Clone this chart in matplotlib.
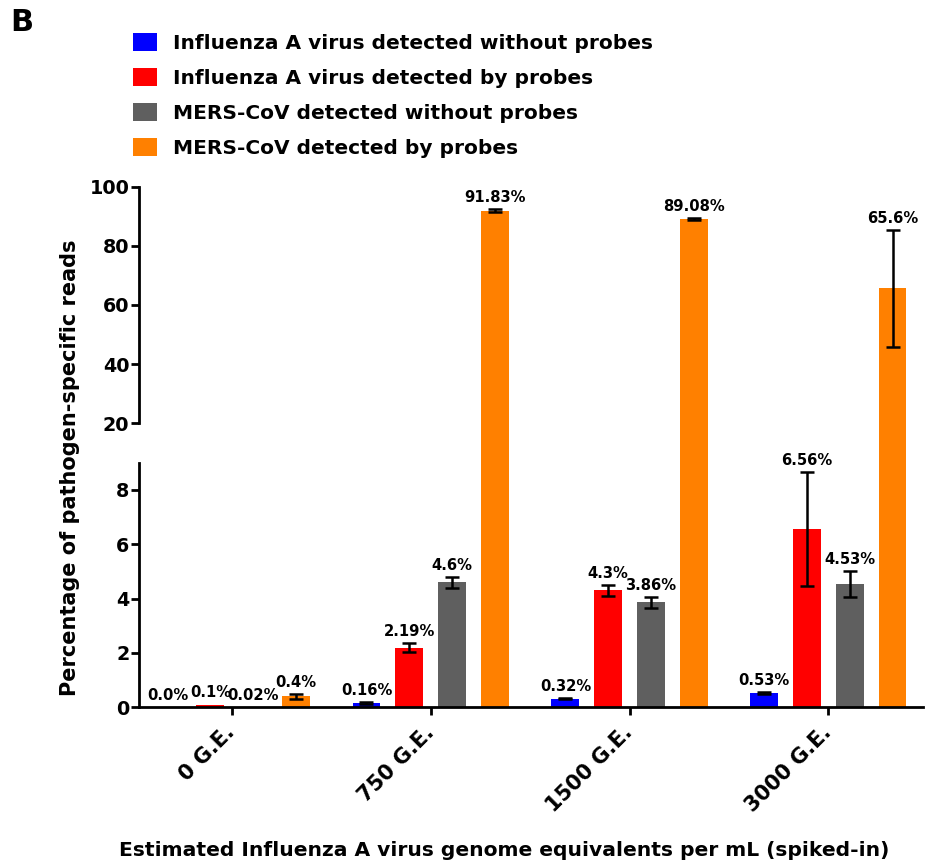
import numpy as np
import matplotlib
matplotlib.use('Agg')
from matplotlib import pyplot as plt

# spiked-in levels and the four read categories
groups = ['0 G.E.', '750 G.E.', '1500 G.E.', '3000 G.E.']
series = ['Influenza A virus detected without probes',
          'Influenza A virus detected by probes',
          'MERS-CoV detected without probes',
          'MERS-CoV detected by probes']
colors = ['#0000FF', '#FF0000', '#5F5F5F', '#FF8000']

flu_no_probe = [0.0, 0.16, 0.32, 0.53]
flu_probe = [0.1, 2.19, 4.3, 6.56]
mers_no_probe = [0.02, 4.6, 3.86, 4.53]
mers_probe = [0.4, 91.83, 89.08, 65.6]

flu_no_probe_err = [0, 0.02, 0.03, 0.04]
flu_probe_err = [0, 0.17, 0.2, 2.1]
mers_no_probe_err = [0, 0.2, 0.2, 0.47]
mers_probe_err = [0.1, 0.5, 0.2, 19.7]

values = [flu_no_probe, flu_probe, mers_no_probe, mers_probe]
errors = [flu_no_probe_err, flu_probe_err, mers_no_probe_err, mers_probe_err]
pct_labels = [['0.0%', '0.16%', '0.32%', '0.53%'],
              ['0.1%', '2.19%', '4.3%', '6.56%'],
              ['0.02%', '4.6%', '3.86%', '4.53%'],
              ['0.4%', '91.83%', '89.08%', '65.6%']]

LOW_MAX = 9
HIGH_MIN, HIGH_MAX = 20, 100
step = 0.215
width = 0.14
x = np.arange(len(groups))

plt.rcParams['font.family'] = 'DejaVu Sans'
plt.rcParams['font.weight'] = 'bold'

fig = plt.figure(figsize=(9.27, 8.63), dpi=100)
ax_low = fig.add_axes([0.150, 0.1804, 0.846, 0.2834])
ax_high = fig.add_axes([0.150, 0.5095, 0.846, 0.2742])

handles = []
for i, (vals, errs, labs) in enumerate(zip(values, errors, pct_labels)):
    xs = x + (i - 1.5) * step
    h = ax_low.bar(xs, vals, width, color=colors[i], label=series[i], zorder=2)
    handles.append(h)
    # only the tall bars go into the top panel; they run unclipped through the gap
    tall = [v if v > HIGH_MIN else 0 for v in vals]
    hb = ax_high.bar(xs, tall, width, color=colors[i], zorder=2)
    for patch, v in zip(hb.patches, vals):
        patch.set_clip_on(False)
        patch.set_visible(v > HIGH_MIN)
    for xi, v, e, lab in zip(xs, vals, errs, labs):
        ax = ax_high if v > LOW_MAX else ax_low
        if e > 0:
            ax.errorbar(xi, v, yerr=e, fmt='none', ecolor='black', elinewidth=1.8,
                        capsize=5, capthick=1.8, zorder=3)
        ax.annotate(lab, (xi, v + e), xytext=(0, 3), textcoords='offset points',
                    ha='center', va='bottom', fontsize=10.6, fontweight='bold',
                    annotation_clip=False)

for ax in (ax_low, ax_high):
    ax.set_xlim(-0.466, 3.477)
    for s in ('top', 'right'):
        ax.spines[s].set_visible(False)
    ax.spines['left'].set_linewidth(2)
    ax.tick_params(axis='y', length=6, width=2, labelsize=13.8, pad=1)

ax_low.set_ylim(0, LOW_MAX)
ax_low.set_yticks([0, 2, 4, 6, 8])
ax_low.spines['bottom'].set_linewidth(2)
ax_low.set_xticks(x)
ax_low.set_xticklabels(groups, rotation=45, ha='right', va='center',
                       rotation_mode='anchor', fontsize=15, fontweight='bold')
ax_low.tick_params(axis='x', length=6, width=2, pad=10)

ax_high.set_ylim(HIGH_MIN, HIGH_MAX)
ax_high.set_yticks([20, 40, 60, 80, 100])
ax_high.spines['bottom'].set_visible(False)
ax_high.set_xticks([])

for ax in (ax_low, ax_high):
    for t in ax.get_yticklabels():
        t.set_fontweight('bold')

fig.text(0.0755, 0.4577, 'Percentage of pathogen-specific reads', rotation=90,
         ha='center', va='center', fontsize=15, fontweight='bold')
fig.text(0.5437, 0.015, 'Estimated Influenza A virus genome equivalents per mL (spiked-in)',
         ha='center', va='center', fontsize=14.6, fontweight='bold')
fig.text(0.011, 0.991, 'B', ha='left', va='top', fontsize=22, fontweight='bold')

fig.legend(handles=handles, loc='upper left', bbox_to_anchor=(0.1435, 0.9614),
           frameon=False, fontsize=14.5, handlelength=1.2, handleheight=1.0,
           handletextpad=0.8, labelspacing=0.75, borderpad=0, borderaxespad=0)

plt.savefig('out.png', dpi=100)
